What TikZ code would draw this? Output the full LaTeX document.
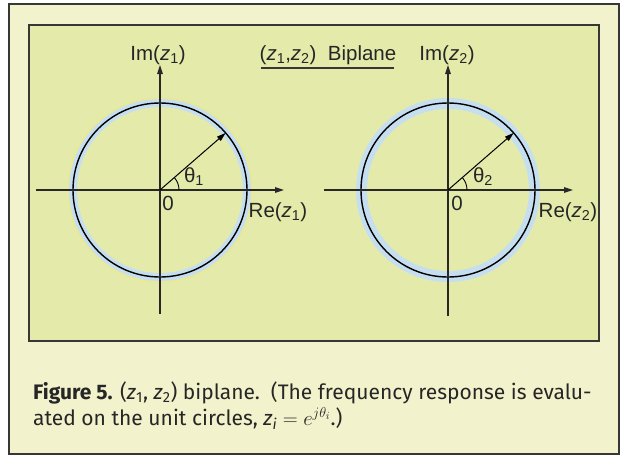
\documentclass[tikz,border=0pt]{standalone}
\usepackage{fontspec}
\setmainfont{Liberation Sans}
\newfontfamily\capfont{Fira Sans}
\usetikzlibrary{arrows.meta,calc}
\definecolor{outerbg}{RGB}{242,243,204}
\definecolor{innerbg}{RGB}{228,235,170}
\definecolor{ring}{RGB}{197,222,240}
\definecolor{ringedge}{RGB}{238,232,140}
\definecolor{framecol}{RGB}{55,55,55}
\definecolor{axiscol}{RGB}{40,40,40}
\begin{document}
\begin{tikzpicture}[x=1pt,y=-1pt,
  lbl/.style={font=\fontsize{20.5}{24}\selectfont, inner sep=0pt, text=black!85},
  axisline/.style={draw=axiscol, line width=1.3pt},
  axisarrow/.style={axisline, -{Triangle[length=9pt,width=5.5pt]}},
  unitcirc/.style={draw=black, line width=1.4pt},
  radial/.style={draw=black, line width=1pt, -{Triangle[length=9pt,width=5.5pt]}},
  anglearc/.style={draw=black, line width=0.9pt},
  caption/.style={font=\capfont\fontsize{21}{25}\selectfont, anchor=base west, inner sep=0pt, text=black!85}]
\useasboundingbox (0,0) rectangle (621,456);
\fill[white] (0,0) rectangle (621,456);
% frames
\draw[framecol, line width=1.2pt, fill=outerbg] (9,4) rectangle (619,454);
\draw[framecol, line width=1.2pt, fill=innerbg] (29,25) rectangle (599,341);

% left plane
\coordinate (o1) at (160,190);
\fill[ringedge] (o1) circle (92.8);
\fill[innerbg] (o1) circle (91.6);
\draw[ring, line width=8pt] (o1) circle (87);
\draw[unitcirc] (o1) circle (87);
\coordinate (l1) at (36,190);
\coordinate (r1) at (284,190);
\coordinate (b1) at (160,314);
\coordinate (t1) at (160,65);
\draw[axisarrow] (l1) -- (r1);
\draw[axisarrow] (b1) -- (t1);
\coordinate (p1) at ($(o1)+(-41:87)$);
\draw[radial] (o1) -- (p1);
\draw[anglearc] ($(o1)+(19,0)$) arc (0:-41:19);
\node[lbl] (im1) at (158,55) {Im(\textit{z}\textsubscript{1})};
\node[lbl] (re1) at (278,212) {Re(\textit{z}\textsubscript{1})};
\node[lbl] (zero1) at (168,203) {0};
\node[lbl] (th1) at (194,177) {θ\textsubscript{1}};

% right plane
\coordinate (o2) at (448,190);
\draw[ring, line width=11pt] (o2) circle (86.5);
\draw[unitcirc] (o2) circle (87);
\coordinate (l2) at (324,190);
\coordinate (r2) at (573,190);
\coordinate (b2) at (448,316);
\coordinate (t2) at (448,65);
\draw[axisarrow] (l2) -- (r2);
\draw[axisarrow] (b2) -- (t2);
\coordinate (p2) at ($(o2)+(-41:87)$);
\draw[radial] (o2) -- (p2);
\draw[anglearc] ($(o2)+(19,0)$) arc (0:-41:19);
\node[lbl] (im2) at (447,55) {Im(\textit{z}\textsubscript{2})};
\node[lbl] (re2) at (568,212) {Re(\textit{z}\textsubscript{2})};
\node[lbl] (zero2) at (457,203) {0};
\node[lbl] (th2) at (483,177) {θ\textsubscript{2}};

% title
\node[lbl] (title) at (328,55) {(\textit{z}\textsubscript{1},\textit{z}\textsubscript{2})\ \ Biplane};
\coordinate (ul) at (261,68);
\coordinate (ur) at (394,68);
\draw[framecol, line width=1.1pt] (ul) -- (ur);

% caption
\node[caption] (cap1) at (33,399) {\textbf{Figure 5.} (\textit{z}\textsubscript{1}, \textit{z}\textsubscript{2}) biplane.\ \ (The frequency response is evalu-};
\node[caption] (cap2) at (33,425) {ated on the unit circles, \textit{z}\textsubscript{\textit{i}} $=$ $e^{j\theta_i}$.)};
\end{tikzpicture}
\end{document}
